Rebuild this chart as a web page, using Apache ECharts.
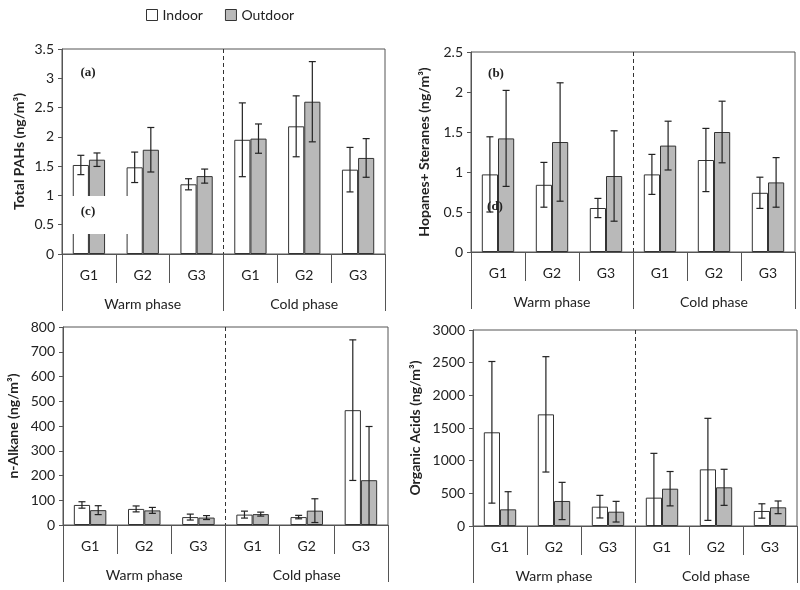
<!DOCTYPE html>
<html>
<head>
<meta charset="utf-8">
<script src="https://cdn.jsdelivr.net/npm/echarts@6/dist/echarts.min.js"></script>
<style>html,body{margin:0;padding:0;background:#fff}#c{width:800px;height:590px}</style>
</head>
<body>
<div id="c"></div>
<script>
const categories = ['G1', 'G2', 'G3', 'G1', 'G2', 'G3'];
const phases = ['Warm phase', 'Cold phase'];
const seriesNames = ['Indoor', 'Outdoor'];
const panelLabels = ['(a)', '(b)', '(c)', '(d)'];
const yTitles = ['Total PAHs (ng/m\u00B3)', 'Hopanes+ Steranes (ng/m\u00B3)', 'n-Alkane (ng/m\u00B3)', 'Organic Acids (ng/m\u00B3)'];

const pahIndoor = [1.52, 1.48, 1.19, 1.95, 2.18, 1.44];
const pahIndoorErr = [0.165, 0.26, 0.095, 0.63, 0.52, 0.38];
const pahOutdoor = [1.61, 1.78, 1.33, 1.97, 2.60, 1.64];
const pahOutdoorErr = [0.115, 0.38, 0.12, 0.25, 0.685, 0.33];

const hopIndoor = [0.97, 0.84, 0.55, 0.97, 1.15, 0.74];
const hopIndoorErr = [0.47, 0.28, 0.12, 0.25, 0.395, 0.195];
const hopOutdoor = [1.42, 1.375, 0.95, 1.33, 1.50, 0.87];
const hopOutdoorErr = [0.6, 0.74, 0.565, 0.305, 0.385, 0.31];

const alkIndoor = [81, 65, 32, 42, 32, 464];
const alkIndoorErr = [13, 12, 12, 14, 7, 284];
const alkOutdoor = [60, 59, 30, 44, 58, 181];
const alkOutdoorErr = [18, 12, 8, 8, 48, 217];

const orgIndoor = [1434, 1709, 296, 434, 867, 230];
const orgIndoorErr = [1084, 883, 173, 678, 781, 110];
const orgOutdoor = [255, 383, 219, 571, 592, 286];
const orgOutdoorErr = [270, 285, 158, 263, 276, 97];

const yMax = [3.5, 2.5, 800, 3000];
const yInterval = [0.5, 0.5, 100, 500];

const panels = [
  [pahIndoor, pahIndoorErr, pahOutdoor, pahOutdoorErr],
  [hopIndoor, hopIndoorErr, hopOutdoor, hopOutdoorErr],
  [alkIndoor, alkIndoorErr, alkOutdoor, alkOutdoorErr],
  [orgIndoor, orgIndoorErr, orgOutdoor, orgOutdoorErr]
];

const grids = [
  {left: 62, top: 49, width: 323, height: 205},
  {left: 471, top: 52, width: 324, height: 200},
  {left: 63, top: 327, width: 325, height: 198},
  {left: 473, top: 330, width: 324, height: 196}
];
const nameGaps = [36, 40, 43, 51];

const FONT = 'Lato';
const AX = '#555';
const TXT = '#222';
const BAR_W = 0.3;

function errRender(side) {
  return function (params, api) {
    const idx = api.value(0), v = api.value(1), e = api.value(2);
    const band = api.size([1, 0])[0];
    const cx = api.coord([idx, v])[0] + side * band * BAR_W / 2;
    const lowVal = v - e;
    const yHigh = api.coord([idx, v + e])[1];
    const yLow = api.coord([idx, Math.max(0, lowVal)])[1];
    const cap = 3.5;
    const st = {stroke: '#222', lineWidth: 1.2};
    const ch = [
      {type: 'line', shape: {x1: cx, y1: yHigh, x2: cx, y2: yLow}, style: st},
      {type: 'line', shape: {x1: cx - cap, y1: yHigh, x2: cx + cap, y2: yHigh}, style: st}
    ];
    if (lowVal >= 0) ch.push({type: 'line', shape: {x1: cx - cap, y1: yLow, x2: cx + cap, y2: yLow}, style: st});
    return {type: 'group', children: ch};
  };
}

const xAxes = [], yAxes = [], series = [];
grids.forEach((g, i) => {
  xAxes.push({
    gridIndex: i, type: 'category', data: categories, position: 'bottom',
    axisLine: {show: true, lineStyle: {color: AX, width: 1}},
    axisTick: {show: true, length: 29, lineStyle: {color: AX}},
    axisLabel: {color: TXT, fontSize: 14, fontFamily: FONT, margin: 14},
    splitLine: {show: false}
  });
  xAxes.push({
    gridIndex: i, type: 'category', data: phases, position: 'bottom', offset: 0,
    axisLine: {show: false},
    axisTick: {show: true, length: 57, lineStyle: {color: AX}},
    axisLabel: {color: TXT, fontSize: 14, fontFamily: FONT, margin: 43},
    splitLine: {show: true, showMinLine: false, showMaxLine: false, lineStyle: {color: '#333', type: [4, 3], width: 1}}
  });
  yAxes.push({
    gridIndex: i, type: 'value', min: 0, max: yMax[i], interval: yInterval[i],
    name: yTitles[i], nameLocation: 'middle', nameRotate: 90,
    nameGap: nameGaps[i],
    nameTextStyle: {color: TXT, fontSize: 14, fontWeight: 'bold', fontFamily: FONT},
    axisLine: {show: true, lineStyle: {color: AX}},
    axisTick: {show: true, length: 4, lineStyle: {color: AX}},
    axisLabel: {color: TXT, fontSize: 14, fontFamily: FONT, margin: 8, formatter: v => String(v)},
    splitLine: {show: false}
  });
  const d = panels[i];
  series.push({
    name: seriesNames[0], type: 'bar', xAxisIndex: 2 * i, yAxisIndex: i,
    data: d[0], barWidth: (BAR_W * 100) + '%', barGap: '0%',
    itemStyle: {color: '#ffffff', borderColor: '#333', borderWidth: 1}
  });
  series.push({
    name: seriesNames[1], type: 'bar', xAxisIndex: 2 * i, yAxisIndex: i,
    data: d[2], barWidth: (BAR_W * 100) + '%', barGap: '0%',
    itemStyle: {color: '#b9b9b9', borderColor: '#333', borderWidth: 1}
  });
  series.push({
    type: 'custom', xAxisIndex: 2 * i, yAxisIndex: i, z: 5, clip: false,
    renderItem: errRender(-1),
    data: d[0].map((v, k) => [k, v, d[1][k]])
  });
  series.push({
    type: 'custom', xAxisIndex: 2 * i, yAxisIndex: i, z: 5, clip: false,
    renderItem: errRender(1),
    data: d[2].map((v, k) => [k, v, d[3][k]])
  });
});

const labelFont = 'bold 13px "Liberation Serif", "DejaVu Serif", serif';
const chart = echarts.init(document.getElementById('c'), null, {renderer: 'canvas'});
chart.setOption({
  animation: false,
  backgroundColor: '#fff',
  legend: {
    data: seriesNames, top: 3, left: 141, itemGap: 22,
    icon: 'rect', itemWidth: 11, itemHeight: 11,
    textStyle: {color: TXT, fontSize: 14, fontFamily: FONT},
    itemStyle: {borderColor: '#333', borderWidth: 1}
  },
  grid: grids.map(g => Object.assign({show: true, borderColor: AX, borderWidth: 1, backgroundColor: 'transparent'}, g)),
  xAxis: xAxes,
  yAxis: yAxes,
  series: series,
  graphic: [
    {type: 'rect', z: 100, shape: {x: 66, y: 196, width: 75, height: 38}, style: {fill: '#fff'}},
    {type: 'text', z: 101, x: 88, y: 73, style: {text: panelLabels[0], font: labelFont, fill: '#222', textAlign: 'center', textVerticalAlign: 'middle'}},
    {type: 'text', z: 101, x: 496, y: 74, style: {text: panelLabels[1], font: labelFont, fill: '#222', textAlign: 'center', textVerticalAlign: 'middle'}},
    {type: 'text', z: 101, x: 88, y: 212, style: {text: panelLabels[2], font: labelFont, fill: '#222', textAlign: 'center', textVerticalAlign: 'middle'}},
    {type: 'text', z: 101, x: 495, y: 207, style: {text: panelLabels[3], font: labelFont, fill: '#222', textAlign: 'center', textVerticalAlign: 'middle'}}
  ]
});
</script>
</body>
</html>
